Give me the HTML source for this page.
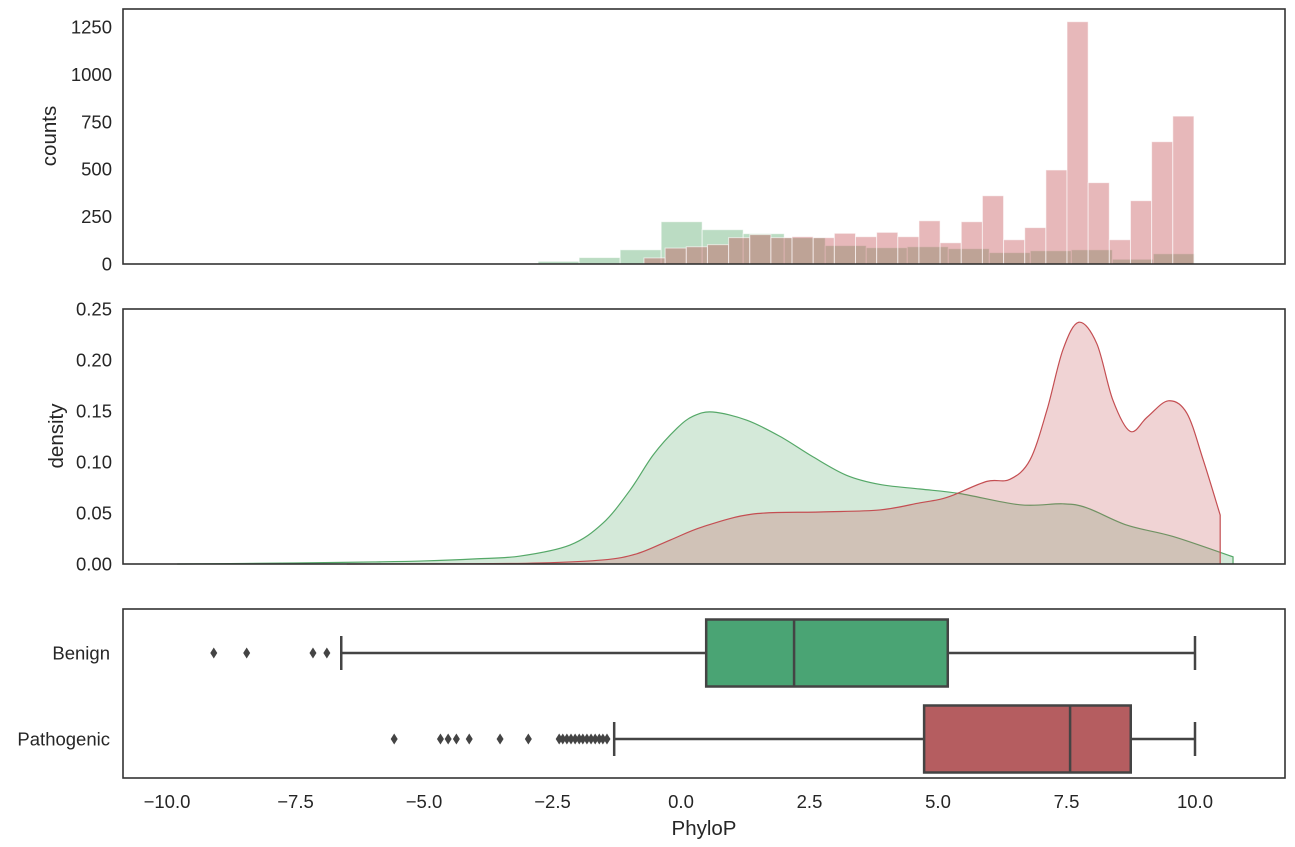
<!DOCTYPE html>
<html><head><meta charset="utf-8"><style>
html,body{margin:0;padding:0;background:#fff}
svg{display:block}
text{font-family:"Liberation Sans",Arial,sans-serif;fill:#262626}
</style></head><body>
<svg id="chart" width="1295" height="847" viewBox="0 0 1295 847" xmlns="http://www.w3.org/2000/svg"></svg>
<script>
// ---- data ----
const xTicks = [-10, -7.5, -5, -2.5, 0, 2.5, 5, 7.5, 10];
const countTicks = [0, 250, 500, 750, 1000, 1250];
const densityTicks = [0, 0.05, 0.10, 0.15, 0.20, 0.25];
const categories = ["Benign", "Pathogenic"];
const benignBinStart = -2.78, benignBinWidth = 0.798;
const benignCounts = [14, 34, 75, 223, 181, 160, 139, 97, 86, 91, 81, 60, 70, 75, 25, 54];
const pathoBinStart = -0.72, pathoBinWidth = 0.4115;
const pathoCounts = [32, 84, 91, 102, 139, 155, 139, 144, 139, 162, 144, 167, 144, 228, 112, 223, 360, 128, 192, 496, 1278, 429, 128, 334, 645, 780];
const benignKdeX = [-9.8, -8.5, -7.5, -6, -5, -4, -3.13, -2.16, -1.52, -0.99, -0.54, -0.08, 0.24, 0.62, 1.28, 1.93, 2.57, 3.22, 3.87, 4.65, 5.43, 6.6, 7.43, 7.9, 8.68, 9.57, 10.74];
const benignKdeY = [0, 0.0005, 0.001, 0.002, 0.003, 0.005, 0.0078, 0.0186, 0.040, 0.0725, 0.107, 0.133, 0.145, 0.149, 0.141, 0.125, 0.105, 0.087, 0.078, 0.0735, 0.069, 0.058, 0.059, 0.055, 0.038, 0.027, 0.007];
const pathoKdeX = [-6.5, -4, -2.74, -1.52, -0.86, -0.21, 0.43, 1.4, 2.7, 3.87, 4.65, 5.04, 5.3, 5.95, 6.4, 6.79, 7.12, 7.43, 7.74, 8.09, 8.4, 8.74, 9.07, 9.48, 9.84, 10.16, 10.49];
const pathoKdeY = [0, 0.0003, 0.001, 0.004, 0.010, 0.0235, 0.0366, 0.049, 0.051, 0.053, 0.0600, 0.0634, 0.0676, 0.081, 0.083, 0.102, 0.151, 0.21, 0.237, 0.216, 0.161, 0.13, 0.144, 0.160, 0.148, 0.102, 0.048];
const boxStats = [[-6.61, 0.49, 2.2, 5.19, 10.0], [-1.3, 4.73, 7.57, 8.75, 10.0]];
const benignOutliers = [-9.09, -8.45, -7.16, -6.89];
const pathoOutliers = [-5.58, -4.68, -4.53, -4.37, -4.12, -3.52, -2.97, -2.37, -2.30, -2.22, -2.14, -2.06, -1.98, -1.91, -1.83, -1.75, -1.67, -1.59, -1.52, -1.44];

// ---- layout ----
const NS = "http://www.w3.org/2000/svg";
const svg = document.getElementById("chart");
const L = 123, R = 1285;
const P1 = {t: 9, b: 264}, P2 = {t: 309, b: 564}, P3 = {t: 609, b: 778};
const TICK = 18.5, TITLE = 20.5;
const xs = v => 681 + 51.4 * v;
const yc = v => P1.b - v * (P1.b - 27) / 1250;
const yd = v => P2.b - v * (P2.b - P2.t) / 0.25;
function el(tag, attrs, parent) {
  const e = document.createElementNS(NS, tag);
  for (const k in attrs) e.setAttribute(k, attrs[k]);
  (parent || svg).appendChild(e);
  return e;
}
function txt(s, x, y, anchor, size, parent) {
  const t = el("text", {x: x, y: y, "text-anchor": anchor, "font-size": size}, parent);
  t.textContent = s;
  return t;
}
function fmt(v) { return (v < 0 ? "\u2212" : "") + Math.abs(v).toFixed(1); }

// ---- panel 1: histogram ----
const g1 = el("g", {});


benignCounts.forEach((c, i) => {
  const x0 = xs(benignBinStart + i * benignBinWidth), x1 = xs(benignBinStart + (i + 1) * benignBinWidth);
  const r = el("rect", {x: x0, y: yc(c), width: x1 - x0, height: P1.b - yc(c), fill: "rgba(85,168,104,0.4)", stroke: "rgba(255,255,255,0.6)", "stroke-width": 1}, g1);
  
  
});
pathoCounts.forEach((c, i) => {
  const x0 = xs(pathoBinStart + i * pathoBinWidth), x1 = xs(pathoBinStart + (i + 1) * pathoBinWidth);
  const r = el("rect", {x: x0, y: yc(c), width: x1 - x0, height: P1.b - yc(c), fill: "rgba(196,78,82,0.4)", stroke: "rgba(255,255,255,0.6)", "stroke-width": 1}, g1);
  
  
});
countTicks.forEach(v => {
  const t = txt(String(v), 112, yc(v) + 6.5, "end", TICK, g1);
  
  
});
const yl1 = txt("counts", 0, 0, "middle", TITLE, g1);
yl1.setAttribute("transform", "translate(56,136) rotate(-90)");



// ---- panel 2: KDE ----
function smoothPath(X, Y, fy) {
  const p = X.map((x, i) => [xs(x), fy(Y[i])]);
  let d = "M" + p[0][0] + "," + p[0][1];
  for (let i = 0; i < p.length - 1; i++) {
    const p0 = p[i - 1] || p[i], p1 = p[i], p2 = p[i + 1], p3 = p[i + 2] || p2;
    const c1x = p1[0] + (p2[0] - p0[0]) / 6, c1y = p1[1] + (p2[1] - p0[1]) / 6;
    const c2x = p2[0] - (p3[0] - p1[0]) / 6, c2y = p2[1] - (p3[1] - p1[1]) / 6;
    d += " C" + c1x + "," + c1y + " " + c2x + "," + c2y + " " + p2[0] + "," + p2[1];
  }
  return {d: d, first: p[0], last: p[p.length - 1]};
}
const g2 = el("g", {});


[[benignKdeX, benignKdeY, "#55a868", "rgba(85,168,104,0.25)", "benign"], [pathoKdeX, pathoKdeY, "#c44e52", "rgba(196,78,82,0.25)", "pathogenic"]].forEach(s => {
  const sp = smoothPath(s[0], s[1], yd);
  const fill = el("path", {d: sp.d + " L" + sp.last[0] + "," + P2.b + " L" + sp.first[0] + "," + P2.b + " Z", fill: s[3], stroke: "none"}, g2);
  
  
  const line = el("path", {d: sp.d + " L" + sp.last[0] + "," + P2.b, fill: "none", stroke: s[2], "stroke-width": 1.2}, g2);
  
  
});
densityTicks.forEach(v => {
  const t = txt(v.toFixed(2), 112, yd(v) + 6.5, "end", TICK, g2);
  
  
});
const yl2 = txt("density", 0, 0, "middle", TITLE, g2);
yl2.setAttribute("transform", "translate(63,436) rotate(-90)");



// ---- panel 3: boxplot ----
const g3 = el("g", {});


const rowY = [653, 739], boxH = 67, boxFill = ["#4aa474", "#b55d60"];
const outl = [benignOutliers, pathoOutliers];
boxStats.forEach((s, i) => {
  const cy = rowY[i], c = "#444444";
  const wl = el("line", {x1: xs(s[0]), x2: xs(s[1]), y1: cy, y2: cy, stroke: c, "stroke-width": 2.5}, g3);
  
  
  const wh = el("line", {x1: xs(s[3]), x2: xs(s[4]), y1: cy, y2: cy, stroke: c, "stroke-width": 2.5}, g3);
  
  
  [s[0], s[4]].forEach(v => {
    const cap = el("line", {x1: xs(v), x2: xs(v), y1: cy - 17, y2: cy + 17, stroke: c, "stroke-width": 2.5}, g3);
    
    
  });
  const b = el("rect", {x: xs(s[1]), y: cy - boxH / 2, width: xs(s[3]) - xs(s[1]), height: boxH, fill: boxFill[i], stroke: c, "stroke-width": 2.5}, g3);
  
  
  const m = el("line", {x1: xs(s[2]), x2: xs(s[2]), y1: cy - boxH / 2, y2: cy + boxH / 2, stroke: c, "stroke-width": 2.5}, g3);
  
  
  outl[i].forEach(v => {
    const x = xs(v);
    const o = el("path", {d: `M${x},${cy - 5.5} L${x + 3.5},${cy} L${x},${cy + 5.5} L${x - 3.5},${cy} Z`, fill: c}, g3);
    
    
  });
  const lab = txt(categories[i], 110, cy + 6.5, "end", TICK, g3);
  
  
});
xTicks.forEach(v => {
  const t = txt(fmt(v), xs(v), 808, "middle", TICK, g3);
  
  
});
const xl = txt("PhyloP", 704, 835, "middle", TITLE, g3);



// ---- frames ----
[[P1, 'histogram-frame'], [P2, 'density-frame'], [P3, 'boxplot-frame']].forEach(p => {
  const f = el("rect", {x: L, y: p[0].t, width: R - L, height: p[0].b - p[0].t, fill: "none", stroke: "#333333", "stroke-width": 1.6});
  
  
});
</script>
</body></html>
